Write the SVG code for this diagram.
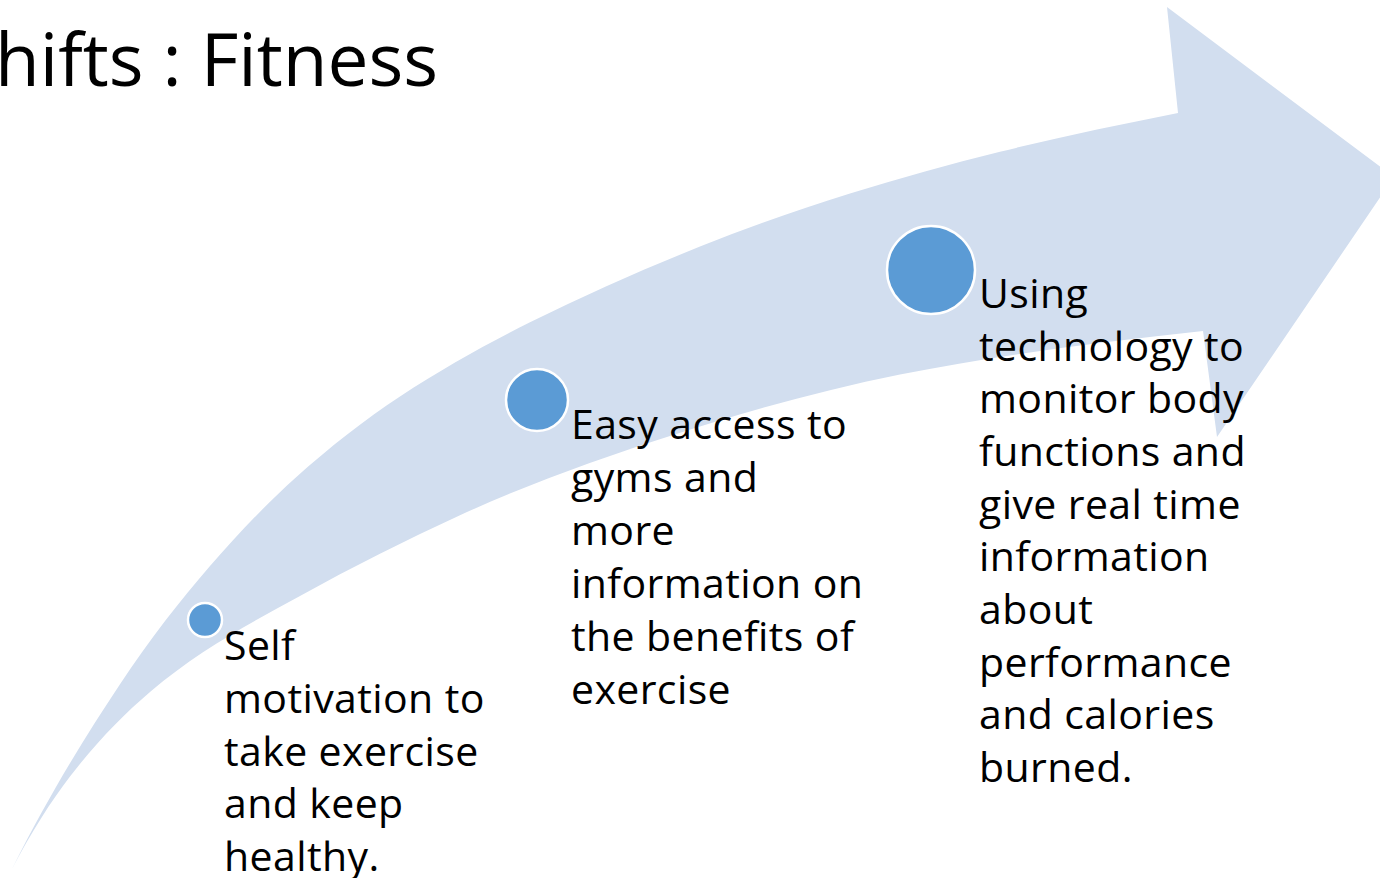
<svg xmlns="http://www.w3.org/2000/svg" width="1380" height="878" viewBox="0 0 1380 878">
<style>
.band{fill:#D2DEEF;stroke:none}
.dot{fill:#5B9BD5;stroke:#FFFFFF;stroke-width:2.5}
.t{font-family:"Open Sans","Liberation Sans",sans-serif;font-size:41px;letter-spacing:0.4px;fill:#000}
.title{font-family:"Open Sans","Liberation Sans",sans-serif;font-size:73px;fill:#000}
</style>
<rect width="1380" height="878" fill="#FFFFFF"/>
<g id="title"><text class="title" x="-5" y="86">hifts : Fitness</text></g>
<g id="connectors">
<path id="arrow" class="band" d="M12,869 C48,797 84,738.2 120,684.2 C150,639.2 180,600.6 210,566.1 C238.3,533.5 266.7,503.7 295,478.2 C330,446.7 365,419.6 400,396.5 C443.3,367.9 486.7,344 530,322.3 C586.7,294 643.3,269.3 700,246.6 C750,226.6 800,209 850,193.5 C900,178 950,164.3 1000,151.8 C1059.3,137 1118.7,124.9 1178,113 L1167,7 L1394,177 L1217,437 L1203,331 C1102,342.1 1001,354.3 900,374.5 C823.3,389.8 746.7,411.4 670,435.9 C600,458.3 530,483.1 460,515.3 C406.7,539.8 353.3,566.6 300,595.9 C250,623.4 200,649.4 150,691.9 C123.3,714.6 96.7,741.8 70,776.5 C50.7,801.6 31.3,832.3 12,869 Z"/>
</g>
<g id="node1">
<circle class="dot" cx="205" cy="620" r="17"/>
<text class="t"><tspan x="224" y="660">Self</tspan><tspan x="224" y="713">motivation to</tspan><tspan x="224" y="766">take exercise</tspan><tspan x="224" y="818">and keep</tspan><tspan x="224" y="871">healthy.</tspan></text>
</g>
<g id="node2">
<circle class="dot" cx="537" cy="400" r="31"/>
<text class="t"><tspan x="571" y="439">Easy access to</tspan><tspan x="571" y="492">gyms and</tspan><tspan x="571" y="545">more</tspan><tspan x="571" y="598">information on</tspan><tspan x="571" y="651">the benefits of</tspan><tspan x="571" y="704">exercise</tspan></text>
</g>
<g id="node3">
<circle class="dot" cx="931" cy="270" r="44"/>
<text class="t"><tspan x="979" y="308">Using</tspan><tspan x="979" y="361">technology to</tspan><tspan x="979" y="413">monitor body</tspan><tspan x="979" y="466">functions and</tspan><tspan x="979" y="519">give real time</tspan><tspan x="979" y="571">information</tspan><tspan x="979" y="624">about</tspan><tspan x="979" y="677">performance</tspan><tspan x="979" y="729">and calories</tspan><tspan x="979" y="782">burned.</tspan></text>
</g>
</svg>
